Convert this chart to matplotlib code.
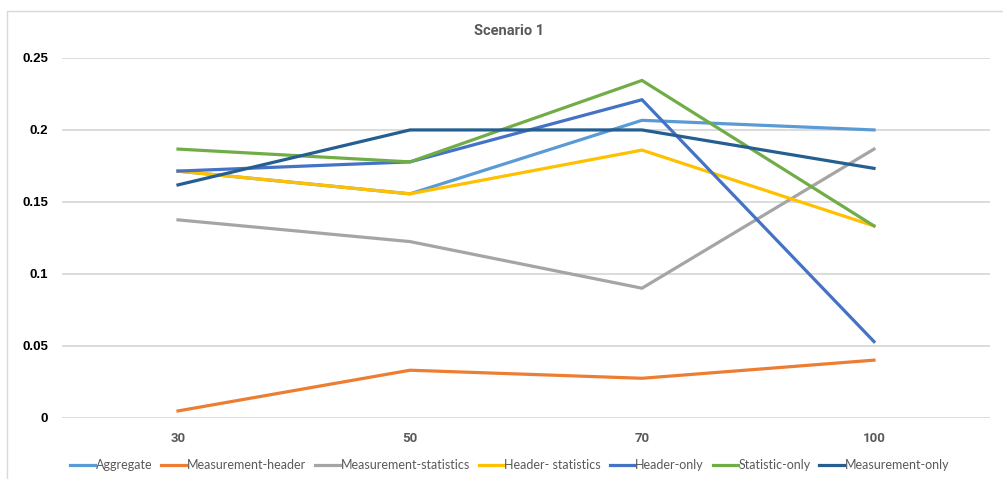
import matplotlib
matplotlib.use("Agg")
import matplotlib.pyplot as plt
from matplotlib.patches import Rectangle

plt.rcParams['font.family'] = ['Lato', 'DejaVu Sans']

categories = ["30", "50", "70", "100"]
series_names = ["Aggregate", "Measurement-header", "Measurement-statistics",
                "Header- statistics", "Header-only", "Statistic-only", "Measurement-only"]

aggregate = [0.1714, 0.1556, 0.2067, 0.2000]
measurement_header = [0.0047, 0.0330, 0.0274, 0.0400]
measurement_statistics = [0.1375, 0.1224, 0.0900, 0.1867]
header_statistics = [0.1714, 0.1556, 0.1860, 0.1333]
header_only = [0.1714, 0.1778, 0.2210, 0.0529]
statistic_only = [0.1867, 0.1778, 0.2344, 0.1333]
measurement_only = [0.1618, 0.2000, 0.2000, 0.1733]

colors = ["#5B9BD5", "#ED7D31", "#A5A5A5", "#FFC000", "#4472C4", "#70AD47", "#255E91"]
all_series = [aggregate, measurement_header, measurement_statistics,
              header_statistics, header_only, statistic_only, measurement_only]

bold_family = ["Roboto", "DejaVu Sans"]

fig = plt.figure(figsize=(10.04, 4.79), dpi=100)
# chart-area border
fig.patches.append(Rectangle((7 / 1004, -0.1), 1.2, 1 - 11 / 479 + 0.1,
                             transform=fig.transFigure, fill=False,
                             edgecolor="#D9D9D9", linewidth=1.0))

ax = fig.add_axes([62 / 1004, 1 - 417.7 / 479, (990 - 62) / 1004, (417.7 - 58) / 479])
x = list(range(len(categories)))
for name, vals, c in zip(series_names, all_series, colors):
    ax.plot(x, vals, color=c, linewidth=2.3, label=name, solid_joinstyle="miter")

ax.set_xlim(-0.5, len(categories) - 0.5)
ax.set_ylim(0, 0.25)
ax.set_yticks([0, 0.05, 0.1, 0.15, 0.2, 0.25])
ax.set_yticklabels(["0", "0.05", "0.1", "0.15", "0.2", "0.25"])
ax.set_xticks(x)
ax.set_xticklabels(categories)
ax.grid(axis="y", color="#D9D9D9", linewidth=1.3)
ax.set_axisbelow(True)
for s in ax.spines.values():
    s.set_visible(False)
ax.tick_params(length=0)
ax.tick_params(axis="y", pad=10, labelsize=9.5, labelcolor="#000000")
ax.tick_params(axis="x", pad=10, labelsize=9.5, labelcolor="#595959")
for lbl in ax.get_yticklabels():
    lbl.set_fontweight("bold")
    lbl.set_family(["Liberation Sans", "DejaVu Sans"])
for lbl in ax.get_xticklabels():
    lbl.set_fontweight("bold")
    lbl.set_family(bold_family)

fig.text(509 / 1004, 1 - 31 / 479, "Scenario 1", ha="center", va="center",
         fontsize=10.5, fontweight="bold", color="#595959", family=bold_family)

leg = fig.legend(loc="center", bbox_to_anchor=(510 / 1004, 1 - 465 / 479), ncol=7,
                 frameon=False, fontsize=9, handlelength=2.0, handletextpad=0.05,
                 columnspacing=0.7, labelcolor="#595959")

fig.savefig("out.png", dpi=100)
